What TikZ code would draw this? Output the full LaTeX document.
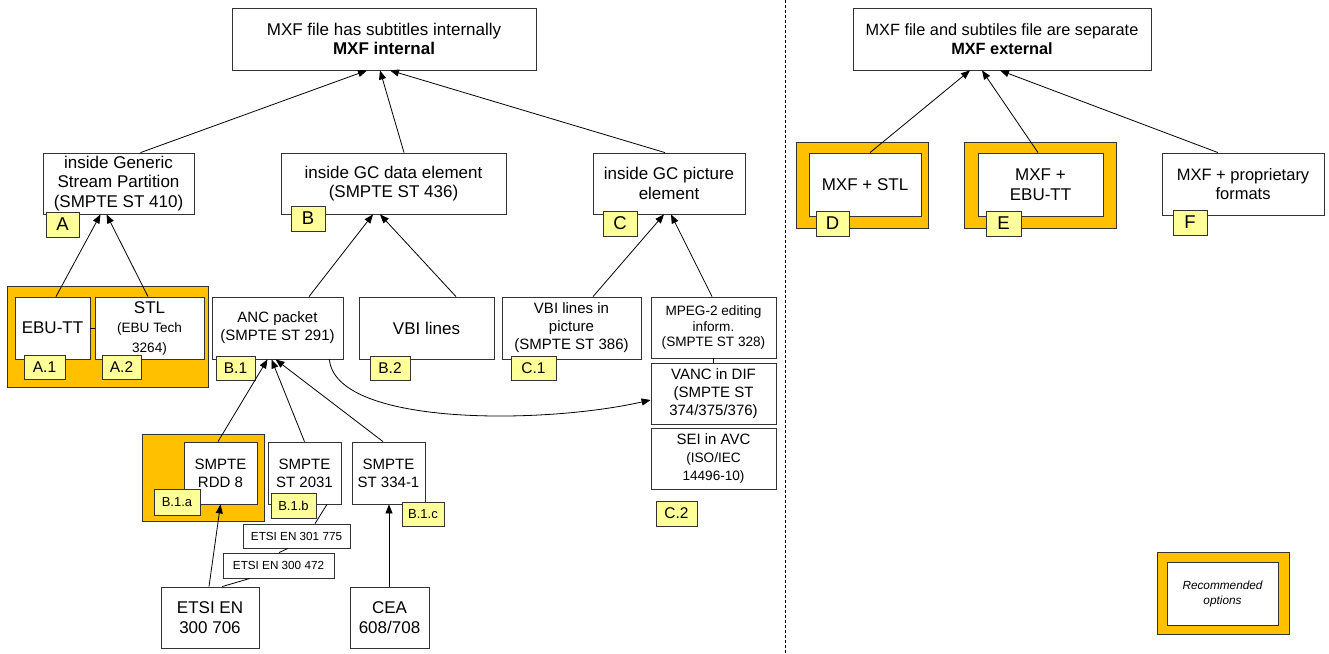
\documentclass[tikz,border=0pt]{standalone}
\usepackage{fontspec}
\setmainfont{Liberation Sans}
\usepackage{xcolor}
\usepackage{tikz}
\usetikzlibrary{positioning,arrows.meta,calc}

\definecolor{recorange}{HTML}{FFC000}
\definecolor{tagyellow}{HTML}{FFFF99}
\newcommand{\smalltxt}{\fontsize{13.6}{15.5}\selectfont}

\begin{document}
\begin{tikzpicture}[x=1pt,y=-1pt,line width=0.8pt,
    wh/.style 2 args={minimum width=#1pt,minimum height=#2pt},
    box/.style={draw=black!80, fill=white, align=center, inner sep=2pt, font=\fontsize{17}{19.5}\selectfont},
    midbox/.style={box, font=\fontsize{15}{18}\selectfont},
    rec/.style={draw=black!80, fill=recorange},
    tag/.style={draw=black!80, fill=tagyellow, inner sep=0pt, font=\fontsize{15.5}{17}\selectfont},
    bigtag/.style={tag, font=\fontsize{18.5}{20}\selectfont},
    smalltag/.style={tag, font=\fontsize{13}{15}\selectfont},
    arr/.style={-{Triangle[length=9pt,width=7pt]}}]
    \useasboundingbox (0,0) rectangle (1329,653);

    % top level
    \node[box, wh={304}{62}] (intl) at (384,39) {MXF file has subtitles internally\\\textbf{MXF internal}};
    \node[box, wh={298}{62}, font=\fontsize{16.3}{19.5}\selectfont] (extl) at (1002,39) {MXF file and subtiles file are separate\\\textbf{MXF external}};

    % MXF internal
    \node[box, wh={151}{61}] (gsp) at (118.5,183.5) {inside Generic\\Stream Partition\\(SMPTE ST 410)};
    \node[box, wh={225}{61}] (gcdata) at (393.5,183.5) {inside GC data element\\(SMPTE ST 436)};
    \node[box, wh={152}{61}] (gcpic) at (669,183.5) {inside GC picture\\element};

    \node[rec, wh={201}{101}] (recA) at (107.5,336.5) {};
    \node[box, wh={75}{62}] (ebutt) at (52.5,328) {EBU-TT};
    \node[box, wh={109}{62}] (stl) at (149.5,328) {STL\\\smalltxt (EBU Tech\\\smalltxt 3264)};
    \node[midbox, wh={131}{62}] (anc) at (277.5,328) {ANC packet\\(SMPTE ST 291)};
    \node[box, wh={135}{62}] (vbi) at (426.5,328) {VBI lines};
    \node[midbox, wh={139}{62}] (vbipic) at (571.5,328) {VBI lines in\\picture\\(SMPTE ST 386)};
    \node[box, wh={125}{61}, font=\smalltxt] (mpeg) at (713.5,327.5) {MPEG-2 editing\\inform.\\(SMPTE ST 328)};
    \node[midbox, wh={125}{61}] (vanc) at (713.5,393.5) {VANC in DIF\\(SMPTE ST\\374/375/376)};
    \node[midbox, wh={125}{61}] (sei) at (713.5,458.5) {SEI in AVC\\\smalltxt (ISO/IEC\\\smalltxt 14496-10)};

    \node[rec, wh={122}{87}] (recB1a) at (203,477.5) {};
    \node[midbox, wh={73}{62}] (rdd8) at (220.5,473) {SMPTE\\RDD 8};
    \node[midbox, wh={73}{62}] (st2031) at (304.5,473) {SMPTE\\ST 2031};
    \node[midbox, wh={73}{62}] (st334) at (388.5,473) {SMPTE\\ST 334-1};
    \node[box, wh={107}{24}, font=\fontsize{11.7}{13}\selectfont] (etsi775) at (296.5,536) {ETSI EN 301 775};
    \node[box, wh={111}{25}, font=\fontsize{11.7}{13}\selectfont] (etsi472) at (278.5,565.5) {ETSI EN 300 472};
    \node[box, wh={98}{61}] (etsi706) at (210,617.5) {ETSI EN\\300 706};
    \node[box, wh={79}{61}] (cea) at (389.5,617.5) {CEA\\608/708};

    % MXF external
    \node[rec, wh={132}{86}] (recD) at (862,185) {};
    \node[box, wh={112}{63}] (mxfstl) at (865,184.5) {MXF + STL};
    \node[rec, wh={152}{86}] (recE) at (1040,185) {};
    \node[box, wh={125}{63}] (mxfebu) at (1040.5,184.5) {MXF +\\EBU-TT};
    \node[box, wh={162}{62}, font=\fontsize{16.5}{19.5}\selectfont] (mxfprop) at (1243,184) {MXF + proprietary\\formats};

    % legend
    \node[rec, wh={132}{82}] (legrec) at (1223,593) {};
    \node[box, wh={111}{63}, font=\fontsize{11.8}{15}\selectfont\itshape] (legend) at (1222.5,593.5) {Recommended\\options};

    % tags
    \node[bigtag, wh={33}{25}] (tA) at (62.5,224.5) {A};
    \node[bigtag, wh={34}{25}] (tB) at (308,218.5) {B};
    \node[bigtag, wh={34}{25}] (tC) at (620,223.5) {C};
    \node[tag, wh={41}{24}] (tA1) at (44.5,367) {A.1};
    \node[tag, wh={39}{24}] (tA2) at (121.5,367) {A.2};
    \node[tag, wh={39}{24}] (tB1) at (235.5,368) {B.1};
    \node[tag, wh={40}{24}] (tB2) at (390,368) {B.2};
    \node[tag, wh={45}{24}] (tC1) at (533.5,368) {C.1};
    \node[tag, wh={41}{25}] (tC2) at (676.5,513.5) {C.2};
    \node[smalltag, wh={46}{26}] (tB1a) at (177,502) {B.1.a};
    \node[smalltag, wh={45}{25}] (tB1b) at (293.5,505.5) {B.1.b};
    \node[smalltag, wh={42}{24}] (tB1c) at (423,514) {B.1.c};
    \node[bigtag, wh={33}{25}] (tD) at (832.5,223.5) {D};
    \node[bigtag, wh={35}{25}] (tE) at (1003.5,223.5) {E};
    \node[bigtag, wh={34}{25}] (tF) at (1190,222.5) {F};

    % connectors
    \draw[arr] ([xshift=22pt]gsp.north) -- ([xshift=-17pt]intl.south);
    \draw[arr] ([xshift=10.5pt]gcdata.north) -- ([xshift=-4pt]intl.south);
    \draw[arr] ([xshift=-4pt]gcpic.north) -- ([xshift=6pt]intl.south);
    \draw[arr] ([xshift=3.5pt]ebutt.north) -- ([xshift=-18pt]gsp.south);
    \draw[arr] ([xshift=-1.5pt]stl.north) -- ([xshift=-12pt]gsp.south);
    \draw (ebutt) -- (stl);
    \draw[arr] ([xshift=31.5pt]anc.north) -- ([xshift=-20.5pt]gcdata.south);
    \draw[arr] ([xshift=29.5pt]vbi.north) -- ([xshift=-13.5pt]gcdata.south);
    \draw[arr] ([xshift=21.5pt]vbipic.north) -- ([xshift=-5pt]gcpic.south);
    \draw[arr] ([xshift=-1.5pt]mpeg.north) -- ([xshift=2pt]gcpic.south);
    \draw (mpeg) -- (vanc);
    \draw[arr] ([xshift=-14pt]anc.south east) .. controls +(6,66) and +(-111,25) .. ([yshift=-6.5pt]vanc.west);
    \draw[arr] ([xshift=-2.5pt]rdd8.north) -- ([xshift=-10pt]anc.south);
    \draw[arr] (st2031.north) -- ([xshift=-6pt]anc.south);
    \draw[arr] ([xshift=-5.5pt]st334.north) -- ([xshift=-2pt]anc.south);
    \draw[arr] ([xshift=-1pt]etsi706.north) -- (rdd8.south);
    \draw[arr] ([xshift=-0.5pt]cea.north) -- ([xshift=0.5pt]st334.south);
    \draw ([xshift=22.5pt]st2031.south) -- ([xshift=18.5pt]etsi775.north);
    \draw ([xshift=-8.5pt]etsi775.south) -- ([xshift=0.5pt]etsi472.north);
    \draw ([xshift=-28.5pt]etsi472.south) -- ([xshift=12pt]etsi706.north);
    \draw[arr] ([xshift=5pt]mxfstl.north) -- ([xshift=-32pt]extl.south);
    \draw[arr] ([xshift=-2.5pt]mxfebu.north) -- ([xshift=-20pt]extl.south);
    \draw[arr] ([xshift=-25pt]mxfprop.north) -- ([xshift=-2pt]extl.south);

    % separator
    \coordinate (septop) at (785,0);
    \coordinate (sepbot) at (785,653);
    \draw[dash pattern=on 3pt off 2pt] (septop) -- (sepbot);
\end{tikzpicture}
\end{document}
